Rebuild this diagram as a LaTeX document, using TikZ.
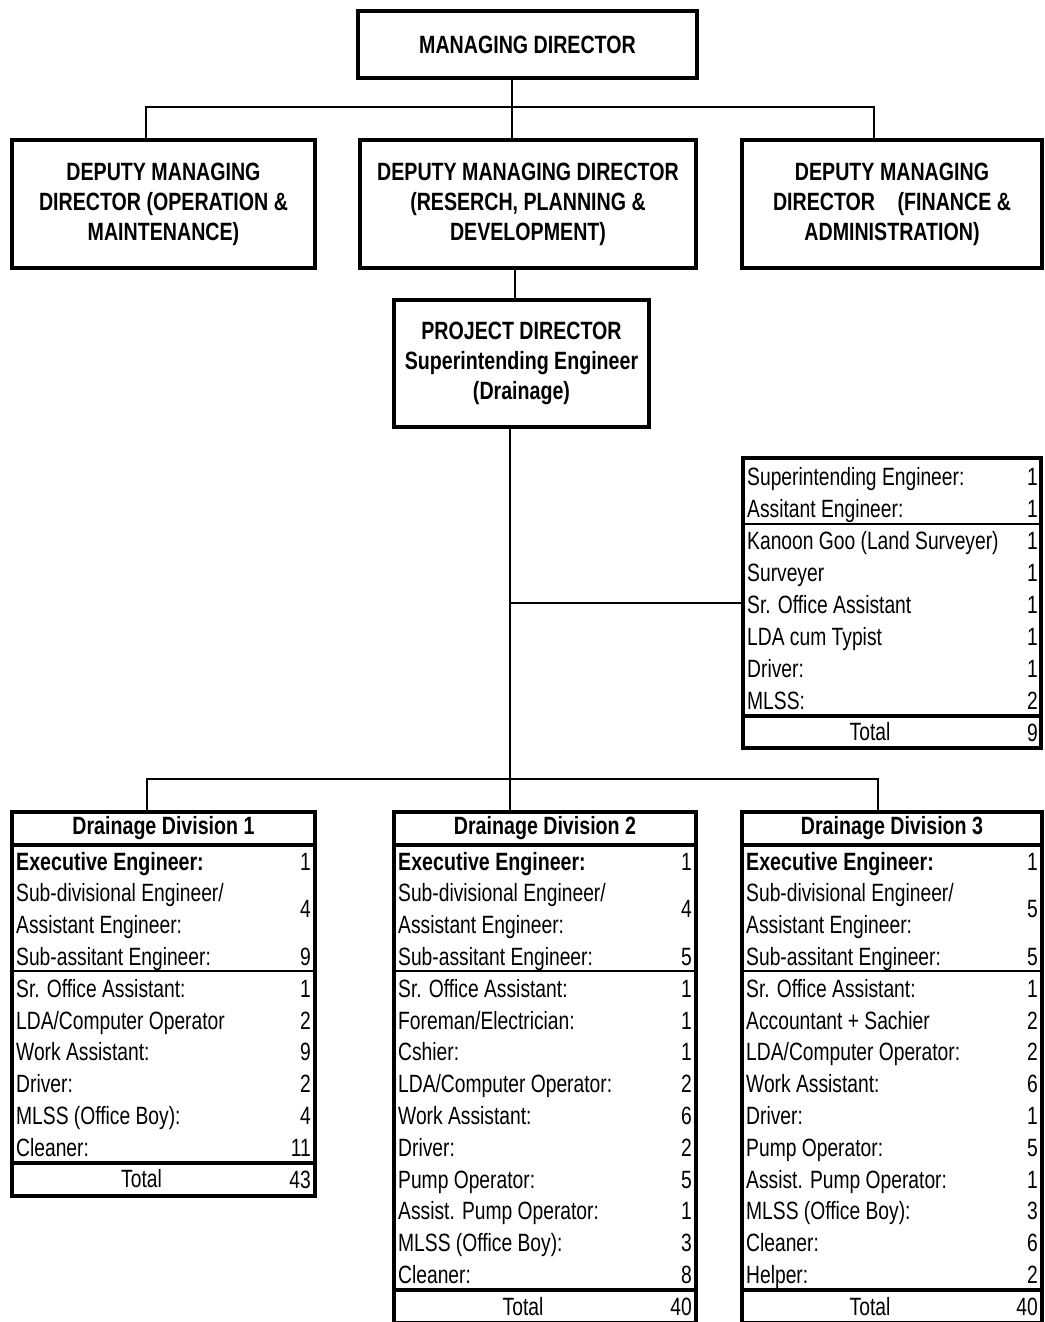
\documentclass[tikz,border=0pt]{standalone}
\usepackage{fontspec}
\setmainfont{Liberation Sans}[FakeStretch=0.77,BoldFeatures={FakeStretch=0.785}]

\begin{document}
\begin{tikzpicture}[x=1pt,y=-1pt,
  every node/.style={font=\fontsize{25}{30}\selectfont},
  box/.style={draw,line width=3.5pt,inner sep=0pt,align=center,
    font=\fontsize{25}{30}\selectfont\bfseries},
  frame/.style={draw,line width=3.5pt,inner sep=0pt,outer sep=0pt,anchor=north west},
  link/.style={line width=1.8pt},
  lbl/.style={anchor=west,inner sep=0pt,text height=18pt,text depth=0pt},
  num/.style={anchor=east,inner sep=0pt,text height=18pt,text depth=0pt},
  rule/.style={line width=1.5pt},
  heavy/.style={line width=4pt}]
\useasboundingbox (0,0) rectangle (1044,1322);

% Directors
\node[box,minimum width=339pt,minimum height=67pt] (md) at (527.5,44.5) {MANAGING DIRECTOR};
\node[box,minimum width=303pt,minimum height=128pt] (dmdOM) at (163.5,204)
  {DEPUTY MANAGING\\DIRECTOR (OPERATION \&\\MAINTENANCE)};
\node[box,minimum width=336pt,minimum height=128pt] (dmdRPD) at (528,204)
  {DEPUTY MANAGING DIRECTOR\\(RESERCH, PLANNING \&\\DEVELOPMENT)};
\node[box,minimum width=300pt,minimum height=128pt] (dmdFA) at (892,204)
  {DEPUTY MANAGING\\DIRECTOR\hspace{0.9em}(FINANCE \&\\ADMINISTRATION)};
\node[box,minimum width=255pt,minimum height=127pt] (pd) at (521.5,363.5)
  {PROJECT DIRECTOR\\Superintending Engineer\\(Drainage)};

% Office of the project director
\node[frame,minimum width=298pt,minimum height=290pt] (pdo) at (743,458) {};
\foreach \t/\n [count=\i] in {{Superintending Engineer:}/1,{Assitant Engineer:}/1,
  {Kanoon Goo (Land Surveyer)}/1,{Surveyer}/1,{Sr. Office Assistant}/1,
  {LDA cum Typist}/1,{Driver:}/1,{MLSS:}/2} {
  \node[lbl] (pdo-l\i) at (747,{444+32*\i}) {\t};
  \node[num] (pdo-n\i) at (1038,{444+32*\i}) {\n};
}
\draw[rule] (743,524) -- (1041,524);
\draw[heavy] (743,716) -- (1041,716);
\node (pdo-tot) at (870,732) {Total};
\node[num] (pdo-sum) at (1038,732) {9};

% Drainage divisions
\foreach \dv/\xl/\xr/\sd/\sa/\nr/\tot in {1/12/315/4/9/6/43,2/394/696/4/5/10/40,3/742/1042/5/5/10/40} {
  \node[frame,minimum width={\xr-\xl},minimum height={(4+\nr)*31.8+66}] (div\dv) at (\xl,812) {};
  \node[font=\fontsize{25}{30}\selectfont\bfseries] (div\dv-title) at ({(\xl+\xr)/2},828) {Drainage Division \dv};
  \draw[heavy] (\xl,845) -- (\xr,845);
  \node[lbl,font=\fontsize{25}{30}\selectfont\bfseries] (div\dv-ee) at (\xl+4,861) {Executive Engineer:};
  \node[num] (div\dv-een) at (\xr-4,861) {1};
  \node[lbl] (div\dv-sd1) at (\xl+4,892.8) {Sub-divisional Engineer/};
  \node[lbl] (div\dv-sd2) at (\xl+4,924.6) {Assistant Engineer:};
  \node[num] (div\dv-sdn) at (\xr-4,908.7) {\sd};
  \node[lbl] (div\dv-sa) at (\xl+4,956.4) {Sub-assitant Engineer:};
  \node[num] (div\dv-san) at (\xr-4,956.4) {\sa};
  \draw[rule] (\xl,971) -- (\xr,971);
  \draw[heavy] (\xl,{861+(4+\nr)*31.8-16}) -- (\xr,{861+(4+\nr)*31.8-16});
  \node (div\dv-tot) at ({(\xl+\xr)/2-22},{861+(4+\nr)*31.8}) {Total};
  \node[num] (div\dv-sum) at (\xr-4,{861+(4+\nr)*31.8}) {\tot};
}
\foreach \t/\n [count=\i] in {{Sr. Office Assistant:}/1,{LDA/Computer Operator}/2,
  {Work Assistant:}/9,{Driver:}/2,{MLSS (Office Boy):}/4,{Cleaner:}/11} {
  \node[lbl] (div1-l\i) at (16,{956.4+31.8*\i}) {\t};
  \node[num] (div1-n\i) at (311,{956.4+31.8*\i}) {\n};
}
\foreach \t/\n [count=\i] in {{Sr. Office Assistant:}/1,{Foreman/Electrician:}/1,
  {Cshier:}/1,{LDA/Computer Operator:}/2,{Work Assistant:}/6,{Driver:}/2,
  {Pump Operator:}/5,{Assist. Pump Operator:}/1,{MLSS (Office Boy):}/3,{Cleaner:}/8} {
  \node[lbl] (div2-l\i) at (398,{956.4+31.8*\i}) {\t};
  \node[num] (div2-n\i) at (692,{956.4+31.8*\i}) {\n};
}
\foreach \t/\n [count=\i] in {{Sr. Office Assistant:}/1,{Accountant + Sachier}/2,
  {LDA/Computer Operator:}/2,{Work Assistant:}/6,{Driver:}/1,{Pump Operator:}/5,
  {Assist. Pump Operator:}/1,{MLSS (Office Boy):}/3,{Cleaner:}/6,{Helper:}/2} {
  \node[lbl] (div3-l\i) at (746,{956.4+31.8*\i}) {\t};
  \node[num] (div3-n\i) at (1038,{956.4+31.8*\i}) {\n};
}

% Connectors
\coordinate (busA) at (512,107);
\coordinate (busAL) at (146,107);
\coordinate (busAR) at (874,107);
\draw[link] (md.south -| busA) -- (busA |- dmdRPD.north);
\draw[link] (busAL |- dmdOM.north) |- (busAR) -- (busAR |- dmdFA.north);
\coordinate (upPD) at (515,284);
\draw[link] (upPD |- dmdRPD.south) -- (upPD |- pd.north);
\coordinate (busB) at (510,779);
\coordinate (busBL) at (147,779);
\coordinate (busBR) at (878,779);
\draw[link] (busB |- pd.south) -- (busB |- div2.north);
\draw[link] (busBL |- div1.north) |- (busBR) -- (busBR |- div3.north);
\draw[link] (busB |- pdo.west) -- (pdo.west);
\end{tikzpicture}
\end{document}
